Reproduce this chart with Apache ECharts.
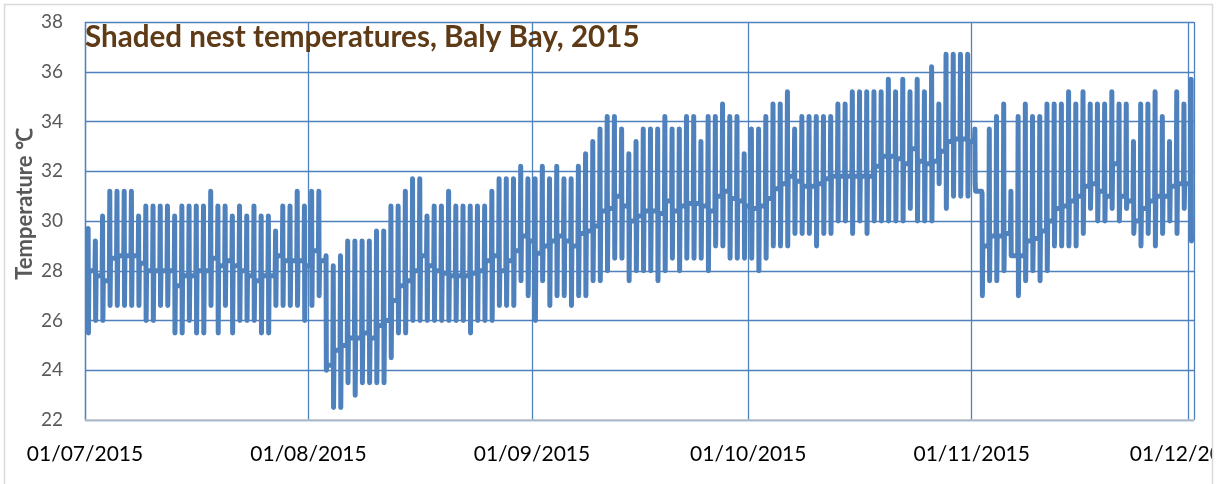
<!DOCTYPE html>
<html>
<head>
<meta charset="utf-8">
<script src="https://cdn.jsdelivr.net/npm/echarts@6/dist/echarts.min.js"></script>
<style>
  html, body { margin: 0; padding: 0; background: #fff; }
  #nest-line { width: 1218px; height: 484px; }
</style>
</head>
<body>
<div id="nest-line"></div>
<script>
// daily readings, one per day from 01/07/2015
var hiTemp = [
    29.7, 29.2, 30.2, 31.2, 31.2, 31.2, 31.2, 30.2, 30.6, 30.6, 30.6, 30.6, 30.2, 30.6, 30.6, 30.6, 30.6, 31.2, 30.6, 30.6,
    30.2, 30.6, 30.2, 30.6, 30.2, 30.2, 29.6, 30.6, 30.6, 31.2, 30.6, 31.2, 31.2, 28.6, 28.2, 28.6, 29.2, 29.2, 29.2,
    29.2, 29.6, 29.6, 30.6, 30.6, 31.2, 31.7, 31.7, 30.2, 30.6, 30.6, 31.2, 30.6, 30.6, 30.6, 30.6, 30.6, 31.2, 31.7, 31.7,
    31.7, 32.2, 31.7, 31.7, 32.2, 31.7, 32.2, 31.7, 31.7, 32.2, 32.7, 33.2, 33.7, 34.2, 34.2, 33.7, 32.7, 33.2, 33.7,
    33.7, 33.7, 34.2, 33.7, 33.7, 34.2, 34.2, 33.2, 34.2, 34.2, 34.7, 34.2, 34.2, 32.7, 33.7, 33.7, 34.2, 34.7, 34.7,
    35.2, 33.7, 34.2, 34.2, 34.2, 34.2, 34.2, 34.7, 34.7, 35.2, 35.2, 35.2, 35.2, 35.2, 35.7, 35.2, 35.7, 35.2, 35.7, 35.2,
    36.2, 34.7, 36.7, 36.7, 36.7, 36.7, 33.7, 31.1, 33.7, 34.2, 34.7, 31.2, 34.2, 34.7, 34.2, 34.2, 34.7, 34.7, 34.7,
    35.2, 34.7, 35.2, 34.7, 34.7, 34.7, 35.2, 34.7, 34.7, 33.2, 34.7, 34.7, 35.2, 34.2, 33.2, 35.2, 34.7, 35.7
];
var loTemp = [
    25.5, 26.0, 26.0, 26.6, 26.6, 26.6, 26.6, 26.6, 26.0, 26.0, 26.6, 26.6, 25.5, 25.5, 26.0, 25.5, 25.5, 26.6, 25.5, 26.6,
    25.5, 26.0, 26.0, 26.0, 25.5, 25.5, 26.6, 26.6, 26.6, 26.6, 26.0, 26.6, 27.0, 24.0, 22.5, 22.5, 23.5, 23.0, 23.5,
    23.5, 23.5, 23.5, 24.5, 25.5, 25.5, 26.0, 26.0, 26.0, 26.0, 26.0, 26.0, 26.0, 26.0, 25.5, 26.0, 26.0, 26.0, 26.6, 26.6,
    26.6, 27.6, 27.0, 26.0, 27.6, 26.6, 27.0, 27.0, 26.6, 27.0, 27.0, 27.6, 27.6, 28.0, 28.5, 28.5, 27.6, 28.0, 28.0,
    28.0, 27.6, 28.0, 28.5, 28.0, 28.5, 28.5, 28.5, 28.0, 29.0, 29.0, 28.5, 28.5, 28.5, 28.5, 28.0, 28.5, 29.0, 29.0,
    29.0, 29.5, 29.5, 29.5, 29.0, 29.5, 29.5, 30.0, 30.0, 29.5, 30.0, 29.5, 30.0, 30.0, 30.0, 30.0, 30.0, 30.5, 30.0, 30.0,
    30.0, 31.5, 30.5, 31.0, 31.0, 31.0, 31.5, 27.0, 27.6, 27.6, 28.0, 28.6, 27.0, 27.6, 28.0, 27.6, 28.0, 29.0, 29.0,
    29.0, 29.0, 29.5, 30.5, 30.0, 30.0, 30.5, 30.0, 30.5, 29.5, 29.0, 29.5, 29.0, 29.5, 30.0, 29.5, 30.5, 29.2
];
// level the trace settles at between two daily peaks
var midTemp = [
    28.0, 27.8, 27.6, 28.5, 28.6, 28.6, 28.6, 28.3, 28.0, 28.0, 28.0, 28.0, 27.4, 27.8, 27.8, 28.0, 28.0, 28.5, 28.2, 28.4,
    28.2, 28.0, 27.8, 27.6, 27.8, 27.8, 28.6, 28.4, 28.4, 28.4, 28.2, 28.8, 28.4, 24.2, 24.8, 25.0, 25.3, 25.3, 25.5,
    25.3, 25.8, 26.0, 26.8, 27.4, 27.6, 28.0, 28.6, 28.2, 28.0, 27.9, 27.8, 27.8, 27.8, 27.9, 28.0, 28.4, 28.6, 28.0, 28.4,
    28.8, 29.4, 29.2, 28.7, 29.0, 29.2, 29.4, 29.2, 29.0, 29.5, 29.6, 29.8, 30.4, 30.5, 31.0, 30.6, 30.0, 30.2, 30.4,
    30.4, 30.3, 30.8, 30.4, 30.6, 30.7, 30.7, 30.6, 30.4, 31.0, 31.2, 30.9, 30.8, 30.6, 30.5, 30.6, 30.9, 31.3, 31.5,
    31.8, 31.6, 31.4, 31.4, 31.5, 31.7, 31.8, 31.8, 31.8, 31.8, 31.8, 31.8, 32.2, 32.6, 32.6, 32.5, 32.3, 32.9, 32.4, 32.3,
    32.4, 32.8, 33.2, 33.3, 33.3, 33.2, 31.2, 29.0, 29.4, 29.4, 29.5, 28.6, 28.6, 29.2, 29.3, 29.6, 30.0, 30.5, 30.6,
    30.8, 31.0, 31.4, 31.5, 31.2, 31.0, 32.3, 31.0, 30.8, 30.0, 30.5, 30.8, 31.0, 31.0, 31.4, 31.5, 31.5, 29.4
];
var yTicks = { min: 22, max: 38, step: 2 };

var HOUR = 3600 * 1000;
var DAY = 24 * HOUR;
var firstDay = new Date(2015, 6, 1).getTime();
var lastEdge = new Date(2015, 11, 1).getTime() + 20 * HOUR;

// each day: mid -> peak -> low -> mid, then flat to the next day
var linePoints = [];
for (var i = 0; i < hiTemp.length; i++) {
    var t = firstDay + i * DAY + 11 * HOUR;
    var prevMid = i > 0 ? midTemp[i - 1] : midTemp[0];
    linePoints.push([t - 2 * HOUR, prevMid]);
    linePoints.push([t - 0.5 * HOUR, hiTemp[i]]);
    linePoints.push([t + 0.5 * HOUR, loTemp[i]]);
    linePoints.push([t + 2 * HOUR, midTemp[i]]);
}

var gridBlue = '#4F81BD';
var chart = echarts.init(document.getElementById('nest-line'));
chart.setOption({
    animation: false,
    title: {
        text: 'Shaded nest temperatures, Baly Bay, 2015',
        left: 85,
        top: 22,
        padding: 0,
        textStyle: {
            fontFamily: 'Lato',
            fontWeight: 'bold',
            fontSize: 29.6,
            color: '#5E3B16'
        }
    },
    grid: {
        left: 85,
        right: 24,
        top: 22,
        bottom: 64,
        outerBoundsMode: 'none'
    },
    xAxis: {
        type: 'time',
        min: firstDay,
        max: lastEdge,
        splitNumber: 5,
        axisLine: { show: true, lineStyle: { color: '#C8C8C8', width: 1.5 } },
        axisTick: { show: false },
        axisLabel: {
            formatter: '{dd}/{MM}/{yyyy}',
            fontFamily: 'Lato',
            fontSize: 21,
            color: '#000',
            margin: 24,
            hideOverlap: false
        },
        splitLine: { show: true, lineStyle: { color: gridBlue, width: 1.3 } },
        minorTick: { show: false }
    },
    yAxis: {
        type: 'value',
        min: yTicks.min,
        max: yTicks.max,
        interval: yTicks.step,
        axisLine: { show: false },
        axisTick: { show: false },
        axisLabel: {
            fontFamily: 'Lato',
            fontSize: 19,
            color: '#595959',
            margin: 22
        },
        splitLine: { show: true, lineStyle: { color: gridBlue, width: 1.3 } }
    },
    graphic: [
        {
            type: 'text',
            x: 25,
            y: 204,
            rotation: Math.PI / 2,
            style: {
                text: 'Temperature ℃',
                fontFamily: 'Lato',
                fontWeight: 'bold',
                fontSize: 22,
                fill: '#595959',
                align: 'center',
                verticalAlign: 'middle'
            }
        },
        {
            type: 'rect',
            z: 100,
            shape: { x: 1213, y: 0, width: 5, height: 484 },
            style: { fill: '#fff' }
        },
        {
            type: 'rect',
            z: 101,
            shape: { x: 4.5, y: 4.5, width: 1208, height: 500 },
            style: { fill: 'none', stroke: '#D9D9D9', lineWidth: 1.5 }
        }
    ],
    series: [{
        name: 'Temperature',
        type: 'line',
        showSymbol: false,
        clip: false,
        data: linePoints,
        lineStyle: {
            color: '#4F81BD',
            width: 5,
            cap: 'round',
            join: 'round'
        }
    }]
});
</script>
</body>
</html>
